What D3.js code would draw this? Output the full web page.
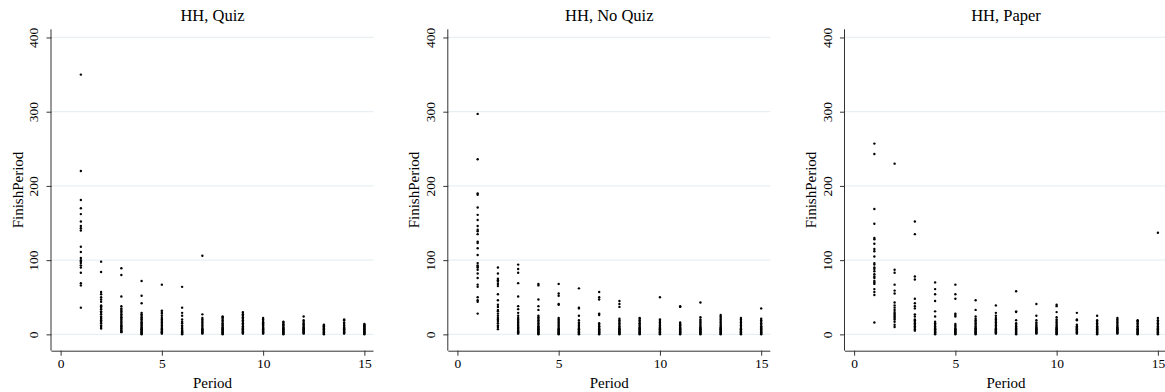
<!DOCTYPE html>
<html>
<head>
<meta charset="utf-8">
<script src="https://cdn.jsdelivr.net/npm/d3@7"></script>
<style>
  body { margin: 0; background: #fff; }
  text { font-family: "Liberation Serif", "DejaVu Serif", serif; fill: #000; }
</style>
</head>
<body>
<svg id="chart"></svg>
<script>
// periods on the x axis
const periods = [1, 2, 3, 4, 5, 6, 7, 8, 9, 10, 11, 12, 13, 14, 15]

// FinishPeriod values per period, one list per period
const quizFinish = [
  [350, 220, 181, 170, 162, 152, 146, 143, 140, 118, 111, 103, 100, 98, 96, 93, 90, 83, 69, 66, 36],
  [98, 84, 57, 54, 50, 47, 44, 39, 38, 36, 34, 31, 29, 27, 24, 22, 21, 19, 17, 15, 12, 10, 8],
  [89, 80, 51, 38, 35, 33, 31, 29, 27, 25, 23, 22, 20, 18, 16, 14, 12, 11, 9, 8, 6, 5, 4, 3],
  [72, 52, 42, 29, 27, 25, 23, 21, 20, 18, 16, 15, 13, 12, 10, 9, 8, 7, 6, 5, 4, 3, 2, 1, 0],
  [67, 32, 30, 28, 25, 22, 20, 18, 16, 14, 12, 10, 8, 7, 5, 4, 3, 2, 1],
  [64, 36, 29, 25, 20, 17, 15, 12, 10, 8, 6, 5, 4, 3, 2, 1, 0],
  [106, 27, 22, 20, 18, 16, 14, 12, 10, 8, 7, 6, 5, 4, 3, 2, 1],
  [24, 23, 21, 19, 17, 15, 13, 12, 10, 9, 8, 7, 6, 5, 4, 3, 2, 1, 0],
  [30, 29, 27, 25, 23, 21, 19, 17, 15, 13, 11, 9, 8, 7, 6, 5, 4, 3, 2, 1],
  [22, 20, 18, 16, 15, 13, 12, 10, 9, 8, 7, 6, 5, 4, 3, 2, 1],
  [17, 16, 14, 13, 12, 10, 9, 8, 7, 6, 5, 4, 3, 2, 1, 0],
  [24, 19, 17, 15, 13, 12, 10, 9, 8, 7, 6, 5, 4, 3, 2, 1],
  [13, 12, 11, 10, 9, 8, 7, 6, 5, 4, 3, 2, 1, 0],
  [20, 19, 16, 14, 12, 10, 9, 8, 7, 6, 5, 4, 3, 2, 1],
  [14, 13, 12, 11, 10, 9, 8, 7, 6, 5, 4, 3, 2, 1, 0]
]

const noQuizFinish = [
  [297, 236, 190, 188, 171, 161, 154, 146, 141, 139, 135, 125, 123, 116, 107, 96, 93, 91, 90, 87, 82, 76, 67, 64, 50, 46, 44, 28],
  [90, 82, 75, 73, 71, 68, 65, 54, 46, 40, 37, 33, 31, 28, 25, 22, 20, 18, 15, 12, 10, 7],
  [94, 88, 83, 69, 51, 38, 34, 29, 25, 22, 20, 18, 16, 14, 12, 10, 9, 8, 6, 5, 4, 3, 2, 1],
  [68, 66, 47, 38, 33, 25, 23, 21, 19, 17, 15, 13, 11, 10, 9, 8, 7, 6, 5, 4, 3, 2, 1, 0],
  [68, 55, 52, 41, 40, 22, 20, 18, 16, 14, 12, 10, 8, 7, 6, 5, 4, 3, 2, 1, 0],
  [62, 36, 35, 25, 19, 16, 14, 12, 10, 8, 7, 6, 5, 4, 3, 2, 1, 0],
  [57, 50, 47, 28, 26, 15, 13, 11, 10, 8, 7, 6, 5, 4, 3, 2, 1, 0],
  [45, 41, 37, 21, 19, 17, 15, 13, 11, 9, 8, 7, 6, 5, 4, 3, 2, 1, 0],
  [22, 21, 19, 17, 15, 14, 12, 10, 9, 8, 7, 6, 5, 4, 3, 2, 1, 0],
  [50, 20, 18, 16, 14, 12, 10, 9, 8, 7, 6, 5, 4, 3, 2, 1, 0],
  [38, 37, 16, 14, 13, 12, 10, 9, 8, 7, 6, 5, 4, 3, 2, 1, 0],
  [43, 23, 20, 18, 16, 14, 12, 10, 9, 8, 7, 6, 5, 4, 3, 2, 1, 0],
  [26, 24, 22, 20, 18, 16, 14, 12, 10, 9, 8, 7, 6, 5, 4, 3, 2, 1, 0],
  [22, 20, 18, 16, 14, 12, 10, 8, 7, 6, 5, 4, 3, 2, 1, 0],
  [35, 21, 19, 17, 15, 13, 11, 10, 9, 8, 7, 6, 5, 4, 3, 2, 1, 0]
]

const paperFinish = [
  [257, 243, 169, 149, 130, 128, 122, 115, 112, 105, 96, 94, 90, 88, 85, 81, 78, 76, 72, 70, 68, 61, 57, 53, 16],
  [230, 87, 83, 67, 59, 55, 43, 39, 36, 33, 30, 28, 26, 24, 22, 20, 17, 13, 10],
  [152, 135, 78, 74, 48, 42, 38, 35, 27, 24, 20, 19, 17, 15, 13, 11, 9, 7, 5],
  [70, 61, 54, 45, 31, 24, 17, 15, 13, 11, 9, 8, 7, 6, 5, 4, 3, 2, 1, 0],
  [67, 54, 48, 28, 26, 24, 14, 12, 10, 8, 7, 6, 5, 4, 3, 2, 1, 0],
  [46, 33, 24, 21, 19, 17, 15, 13, 11, 9, 8, 7, 6, 5, 4, 3, 2, 1, 0],
  [39, 29, 25, 22, 20, 18, 16, 14, 12, 10, 8, 7, 6, 5, 4, 3, 2, 1],
  [58, 31, 30, 19, 15, 13, 11, 9, 8, 7, 6, 5, 4, 3, 2, 1, 0],
  [41, 25, 19, 16, 14, 12, 10, 9, 8, 7, 6, 5, 4, 3, 2, 1],
  [40, 38, 30, 23, 20, 18, 16, 14, 12, 10, 9, 8, 7, 6, 5, 4, 3, 2, 1, 0],
  [29, 20, 19, 13, 11, 10, 9, 8, 7, 6, 5, 4, 3, 2, 1],
  [25, 19, 17, 15, 13, 11, 10, 9, 8, 7, 6, 5, 4, 3, 2, 1, 0],
  [22, 20, 18, 16, 14, 12, 10, 9, 8, 7, 6, 5, 4, 3, 2, 1],
  [19, 18, 17, 15, 13, 11, 10, 8, 7, 6, 5, 4, 3, 2, 1, 0],
  [137, 22, 19, 17, 15, 13, 11, 9, 8, 7, 6, 5, 4, 3, 2, 1, 0]
]

const panelTitles = ["HH, Quiz", "HH, No Quiz", "HH, Paper"]
const xTicks = [0, 5, 10, 15]
const yTicks = [0, 100, 200, 300, 400]

// ******************* LAYOUT *******************

const width = 1165
const height = 392
const panelLeft = [51.5, 448.3, 845]
const plotWidth = 322
const plotTop = 29.3
const plotBottom = 350.7

const svg = d3.select("#chart")
  .attr("width", width)
  .attr("height", height)

const y = d3.scaleLinear()
  .domain([-22, 411])
  .range([plotBottom, plotTop])

const panels = [quizFinish, noQuizFinish, paperFinish]

panels.forEach(function(series, i) {
  let left = panelLeft[i]

  let x = d3.scaleLinear()
    .domain([-0.45, 15.45])
    .range([left, left + plotWidth])

  let g = svg.append("g")

  // gridlines
  g.selectAll(".grid")
    .data(yTicks)
    .enter()
    .append("line")
    .attr("x1", left)
    .attr("x2", left + plotWidth)
    .attr("y1", function(d) { return y(d) })
    .attr("y2", function(d) { return y(d) })
    .attr("stroke", "#e8eff3")
    .attr("stroke-width", 1.2)

  // points
  let points = []
  series.forEach(function(vals, j) {
    vals.forEach(function(v) {
      points.push({ period: periods[j], value: v })
    })
  })

  g.selectAll(".dot")
    .data(points)
    .enter()
    .append("circle")
    .attr("cx", function(d) { return x(d.period) })
    .attr("cy", function(d) { return y(d.value) })
    .attr("r", 1.2)
    .attr("fill", "#000")

  // x axis
  let xAxis = d3.axisBottom(x)
    .tickValues(xTicks)
    .tickSize(5)
    .tickPadding(3)

  let xg = g.append("g")
    .attr("transform", "translate(0," + plotBottom + ")")
    .call(xAxis)
  xg.select(".domain").attr("d", "M" + left + ",0.5H" + (left + plotWidth)).attr("stroke", "#333")
  xg.selectAll(".tick line").attr("stroke", "#333")
  xg.selectAll(".tick text")
    .attr("font-size", "13.5px")
    .attr("font-family", "Liberation Serif")
    .attr("fill", "#000")

  // y axis
  let yAxis = d3.axisLeft(y)
    .tickValues(yTicks)
    .tickSize(5)

  let yg = g.append("g")
    .attr("transform", "translate(" + left + ",0)")
    .call(yAxis)
  yg.select(".domain").attr("d", "M-0.5," + plotTop + "V" + plotBottom).attr("stroke", "#333")
  yg.selectAll(".tick line").attr("stroke", "#333")
  yg.selectAll(".tick text")
    .attr("font-size", "13.5px")
    .attr("font-family", "Liberation Serif")
    .attr("fill", "#000")
    .attr("text-anchor", "middle")
    .attr("x", 0)
    .attr("dy", 0)
    .attr("transform", "translate(-13.5,0) rotate(-90)")

  // titles
  g.append("text")
    .attr("x", left + plotWidth / 2)
    .attr("y", 20.5)
    .attr("text-anchor", "middle")
    .attr("font-size", "16.5px")
    .text(panelTitles[i])

  g.append("text")
    .attr("x", left + plotWidth / 2)
    .attr("y", 387.5)
    .attr("text-anchor", "middle")
    .attr("font-size", "15px")
    .text("Period")

  g.append("text")
    .attr("transform", "translate(" + (left - 29) + "," + ((plotTop + plotBottom) / 2) + ") rotate(-90)")
    .attr("text-anchor", "middle")
    .attr("font-size", "15px")
    .text("FinishPeriod")
})
</script>
</body>
</html>
